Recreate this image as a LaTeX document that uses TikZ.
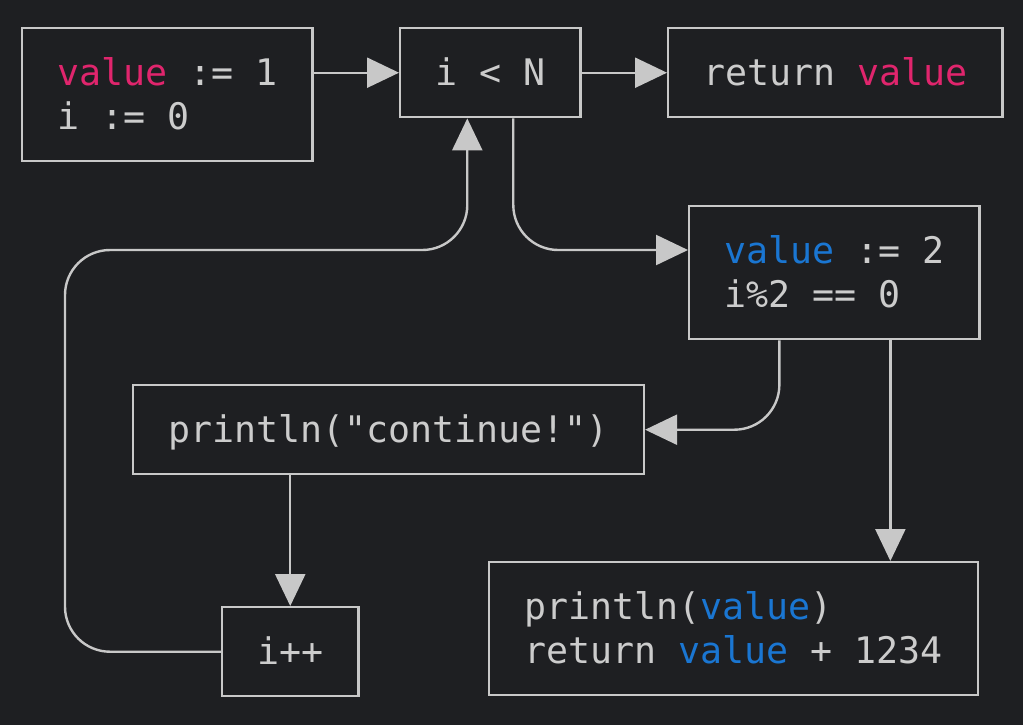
\documentclass[tikz,border=0pt]{standalone}
\usepackage{fontspec}
\newfontfamily\codefont{DejaVu Sans Mono}
\usetikzlibrary{arrows.meta}
\definecolor{bg}{HTML}{1E1F22}
\definecolor{fg}{HTML}{CCCCCC}
\definecolor{edgegray}{HTML}{C8C8C8}
\definecolor{valpink}{HTML}{E0256D}
\definecolor{valblue}{HTML}{1A76D2}
\newcommand\codestrut{\rule[-4.5pt]{0pt}{22pt}}
\newcommand\pinkval[1]{\textcolor{valpink}{#1}}
\newcommand\blueval[1]{\textcolor{valblue}{#1}}
\tikzset{
  codebox/.style={draw=edgegray, line width=1.2pt, anchor=north west, align=left,
    font=\codefont\fontsize{18.3pt}{22pt}\selectfont, text=fg,
    inner xsep=17.5pt, inner ysep=0pt, minimum height=44.5pt},
  tallbox/.style={codebox, minimum height=66.5pt},
  flow/.style={draw=edgegray, line width=1.2pt, rounded corners=22.5pt,
    -{Triangle[length=16pt,width=15pt]}}
}
\begin{document}
\begin{tikzpicture}[x=0.5pt,y=-0.5pt]
\fill[bg] (0,0) rectangle (1023,725);
\useasboundingbox (0,0) rectangle (1023,725);
% boxes
\node[tallbox] (init) at (21,27) {\codestrut\pinkval{value} := 1\\\codestrut i := 0};
\node[codebox] (cond) at (399,27) {\codestrut i < N};
\node[codebox] (ret) at (667,27) {\codestrut return \pinkval{value}};
\node[tallbox] (even) at (688,205) {\codestrut\blueval{value} := 2\\\codestrut i\%2 == 0};
\node[codebox] (cont) at (132,384) {\codestrut println("continue!")};
\node[codebox] (inc) at (221,606) {\codestrut i++};
\node[tallbox] (out) at (488,561)
  {\codestrut println(\blueval{value})\\\codestrut return \blueval{value} + 1234};
% helper points
\coordinate (loop) at (65,250);
\coordinate (evenL) at ([xshift=-27.5pt]even.south);
\coordinate (evenR) at ([xshift=28pt]even.south);
% connectors
\draw[flow] (init.east |- cond.west) -- (cond.west);
\draw[flow] (cond.east) -- (ret.west);
\draw[flow] ([xshift=11.5pt]cond.south) |- ([yshift=-22.5pt]even.north west);
\draw[flow] (inc.west) -| (loop) -| ([xshift=-11.5pt]cond.south);
\draw[flow] (evenL) |- (cont.east);
\draw[flow] (evenR) -- (evenR |- out.north);
\draw[flow] (inc.north |- cont.south) -- (inc.north);
\end{tikzpicture}
\end{document}
